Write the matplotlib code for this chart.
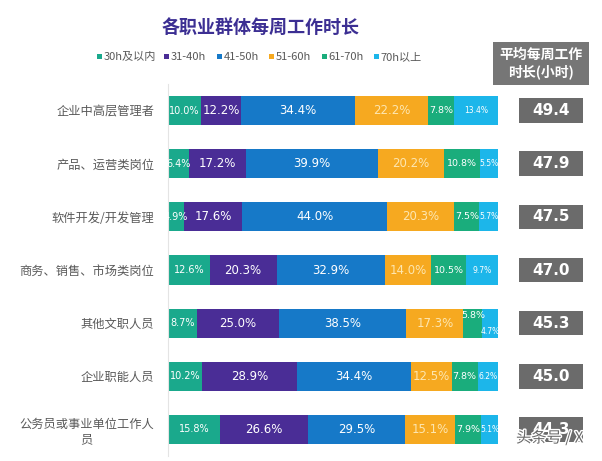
import matplotlib
matplotlib.use("Agg")
import matplotlib.pyplot as plt
from matplotlib.patches import Rectangle
import matplotlib.patheffects as pe
import numpy as np

plt.rcParams['font.family'] = ['Noto Sans CJK SC', 'DejaVu Sans']

categories = ["企业中高层管理者", "产品、运营类岗位", "软件开发/开发管理", "商务、销售、市场类岗位",
              "其他文职人员", "企业职能人员", "公务员或事业单位工作人\n员"]
series_names = ["30h及以内", "31-40h", "41-50h", "51-60h", "61-70h", "70h以上"]
h30 = [10.0, 6.4, 4.9, 12.6, 8.7, 10.2, 15.8]
h31_40 = [12.2, 17.2, 17.6, 20.3, 25.0, 28.9, 26.6]
h41_50 = [34.4, 39.9, 44.0, 32.9, 38.5, 34.4, 29.5]
h51_60 = [22.2, 20.2, 20.3, 14.0, 17.3, 12.5, 15.1]
h61_70 = [7.8, 10.8, 7.5, 10.5, 5.8, 7.8, 7.9]
h70 = [13.4, 5.5, 5.7, 9.7, 4.7, 6.2, 5.1]
avg_hours = [49.4, 47.9, 47.5, 47.0, 45.3, 45.0, 44.3]
title = "各职业群体每周工作时长"
avg_header = "平均每周工作\n时长(小时)"

colors = ["#1aa98c", "#4a2d96", "#1679c8", "#f6a920", "#1aad7c", "#1cb6ea"]
label_colors = ["white", "white", "white", "#fde6b0", "white", "white"]
label_sizes = [7, 8.5, 8.5, 8.5, 6.8, 5.5]

W, H = 602, 461
fig = plt.figure(figsize=(W / 100, H / 100), dpi=100)
fig.patch.set_facecolor("white")

def fx(px):
    return px / W

def fy(py):
    return 1 - py / H

# main axes
top_px, bot_px = 84, 456
ax = fig.add_axes([fx(168), fy(bot_px), fx(498) - fx(168), (bot_px - top_px) / H])
ax.set_xlim(0, 100)
ax.set_ylim(6.5, -0.5)
y = np.arange(len(categories))
data = [h30, h31_40, h41_50, h51_60, h61_70, h70]
left = np.zeros(len(categories))
bar_h = 0.55
for i, vals in enumerate(data):
    vals = np.array(vals)
    ax.barh(y, vals, left=left, height=bar_h, color=colors[i], edgecolor="none")
    for j, v in enumerate(vals):
        cx = left[j] + v / 2
        cy = y[j]
        if j == 4 and i == 4:
            cy = y[j] - 0.15
        if j == 4 and i == 5:
            cy = y[j] + 0.15
        ax.text(cx, cy, f"{v:.1f}%", ha="center", va="center",
                color=label_colors[i], fontsize=label_sizes[i], family="DejaVu Sans")
    left += vals

ax.set_yticks(y)
ax.set_yticklabels(categories, fontsize=8.8, color="#5a5a5a", multialignment="center")
ax.tick_params(axis="y", length=0, pad=10)
ax.set_xticks([])
for s in ["top", "right", "bottom"]:
    ax.spines[s].set_visible(False)
ax.spines["left"].set_color("#e4e4e4")
ax.spines["left"].set_linewidth(0.8)
ax.patch.set_alpha(0)

# average value boxes
ax2 = fig.add_axes([fx(519), fy(bot_px), fx(583) - fx(519), (bot_px - top_px) / H], sharey=ax)
ax2.barh(y, [1] * len(y), height=0.46, color="#6b6b6b", edgecolor="none")
for j, v in enumerate(avg_hours):
    ax2.text(0.5, y[j], f"{v:.1f}", ha="center", va="center", color="white",
             fontsize=11, fontweight="bold", family="DejaVu Sans")
ax2.set_xlim(0, 1)
ax2.axis("off")

# header box
fig.patches.append(Rectangle((fx(493), fy(85)), fx(589) - fx(493), (85 - 42) / H,
                             transform=fig.transFigure, facecolor="#767676", edgecolor="none"))
fig.text(fx(541), fy(63.5), avg_header, ha="center", va="center", color="white",
         fontsize=10, fontweight="bold", linespacing=1.15)

# title
fig.text(fx(261), fy(27), title, ha="center", va="center", color="#3c2f93",
         fontsize=13, fontweight="bold")

# legend
leg_x = [97, 164, 217, 269, 322, 374]
for i, name in enumerate(series_names):
    fig.patches.append(Rectangle((fx(leg_x[i]), fy(59.5)), 5 / W, 5 / H,
                                 transform=fig.transFigure, facecolor=colors[i], edgecolor="none"))
    fig.text(fx(leg_x[i] + 6.5), fy(57), name, ha="left", va="center", color="#595959",
             fontsize=8)

# watermark
wm = fig.text(fx(516), fy(438), "头条号 / X", ha="left", va="center", color="#6a6a6a",
              fontsize=11, zorder=10)
wm.set_path_effects([pe.withStroke(linewidth=2, foreground="white")])

fig.savefig("out.png", dpi=100)
